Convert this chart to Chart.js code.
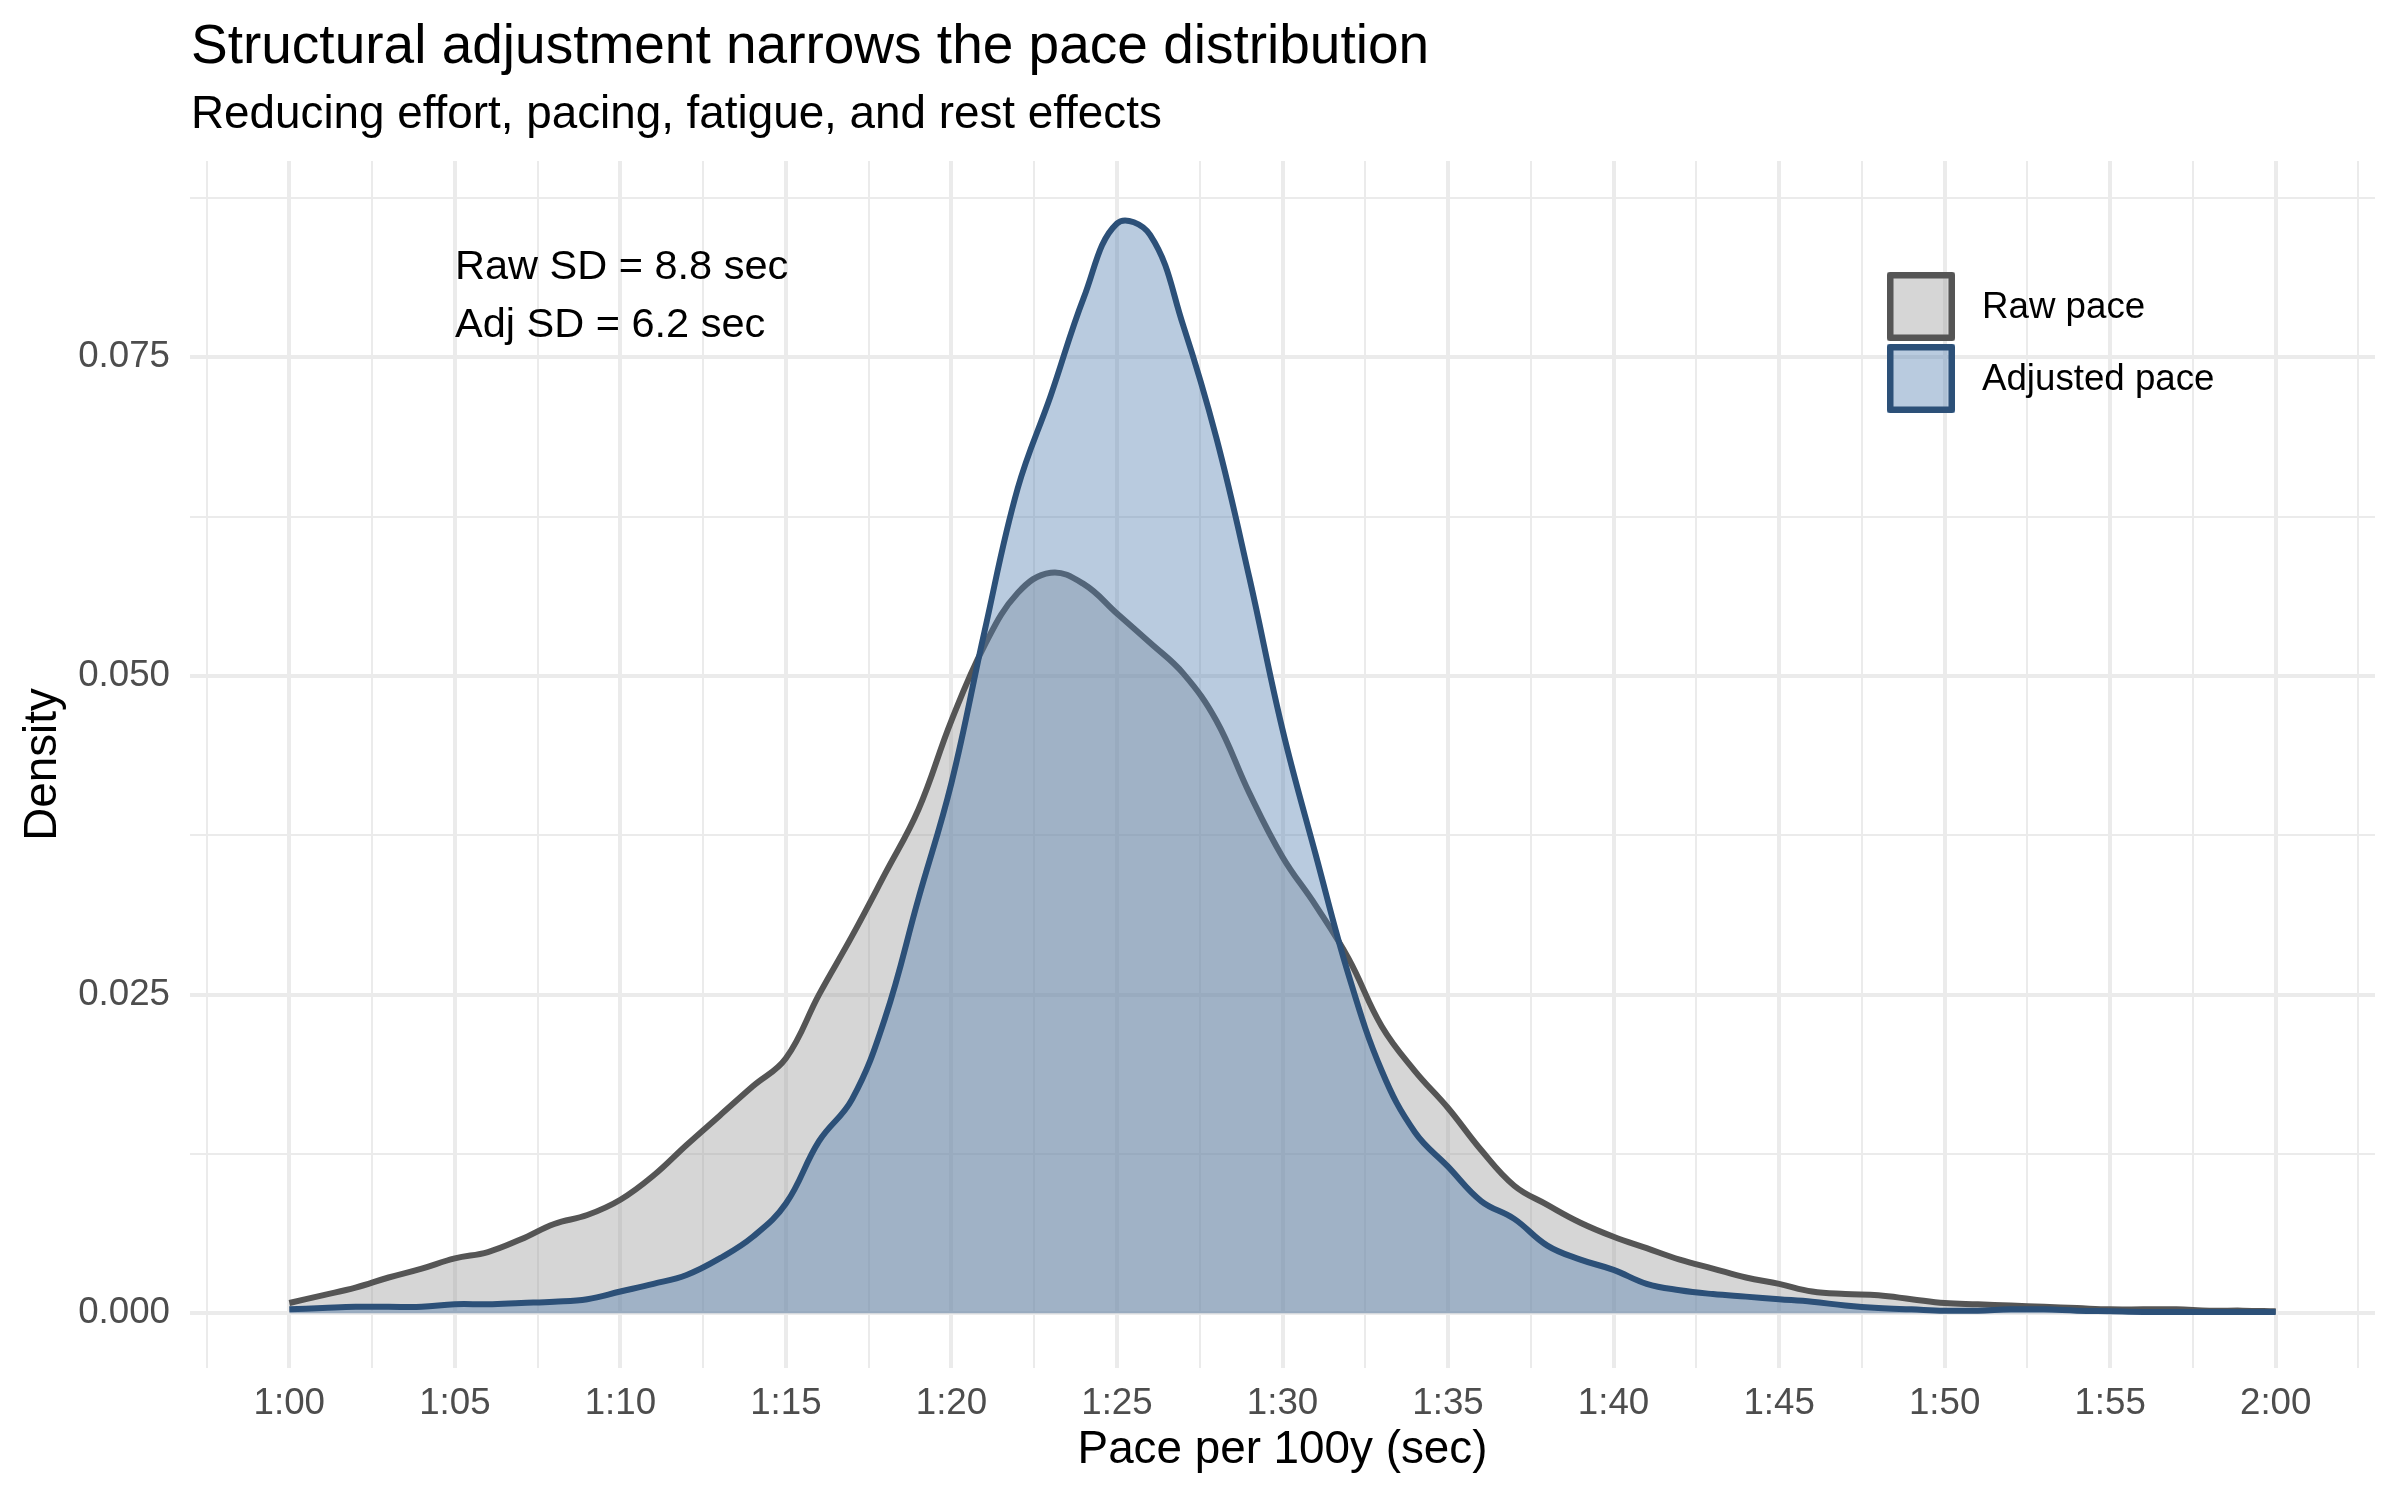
<!DOCTYPE html>
<html>
<head>
<meta charset="utf-8">
<script src="https://cdn.jsdelivr.net/npm/chart.js@4.4.0/dist/chart.umd.min.js"></script>
<style>
  html, body { margin: 0; padding: 0; background: #fff; }
</style>
</head>
<body>
<canvas id="paceChart" width="2400" height="1500"></canvas>
<script>
// pace grid, seconds per 100y
const paceSec = [60, 61, 62, 63, 64, 65, 66, 67, 68, 69, 70, 71, 72, 73, 74, 75, 76, 77, 78, 79,
  80, 81, 82, 83, 84, 85, 86, 87, 88, 89, 90, 91, 92, 93, 94, 95, 96, 97, 98, 99,
  100, 101, 102, 103, 104, 105, 106, 107, 108, 109, 110, 111, 112, 113, 114, 115, 116, 117, 118, 119, 120];

// density
const rawDensity = [0.0008, 0.0014, 0.0020, 0.0028, 0.0035, 0.0043, 0.0048, 0.0058, 0.0070, 0.0077,
  0.0089, 0.0108, 0.0132, 0.0155, 0.0178, 0.0200, 0.0250, 0.0296, 0.0345, 0.0395,
  0.0465, 0.0524, 0.0565, 0.0581, 0.0572, 0.0549, 0.0526, 0.0502, 0.0465, 0.0408,
  0.0358, 0.0320, 0.0278, 0.0225, 0.0190, 0.0161, 0.0128, 0.0100, 0.0085, 0.0071,
  0.0060, 0.0051, 0.0042, 0.0035, 0.0028, 0.0023, 0.0017, 0.0015, 0.0014, 0.0011,
  0.0008, 0.0007, 0.0006, 0.0005, 0.0004, 0.0003, 0.0003, 0.0003, 0.0002, 0.0002, 0.00015];

const adjDensity = [0.0003, 0.0004, 0.0005, 0.0005, 0.0005, 0.0007, 0.0007, 0.0008, 0.0009, 0.0011,
  0.0017, 0.0023, 0.0030, 0.0043, 0.0060, 0.0086, 0.0135, 0.0168, 0.0232, 0.0325,
  0.0416, 0.0535, 0.0647, 0.0720, 0.0797, 0.0855, 0.0846, 0.0775, 0.0687, 0.0577,
  0.0458, 0.0360, 0.0265, 0.0190, 0.0142, 0.0115, 0.0088, 0.0074, 0.0053, 0.0042,
  0.0034, 0.0023, 0.0018, 0.0015, 0.0013, 0.0011, 0.0009, 0.0006, 0.0004, 0.0003,
  0.0002, 0.0002, 0.0003, 0.0003, 0.0002, 0.00015, 0.0001, 0.0001, 0.0001, 0.0001, 0.0001];

const seriesNames = ["Raw pace", "Adjusted pace"];
const yTicks = [0, 0.0125, 0.025, 0.0375, 0.05, 0.0625, 0.075, 0.0875];
const annotationLines = ["Raw SD = 8.8 sec", "Adj SD = 6.2 sec"];

const FONT = "'Liberation Sans', Arial, Helvetica, sans-serif";
const rawLine = "#555555", rawFill = "rgba(153,153,153,0.4)";
const adjLine = "#2C5078", adjFill = "rgba(80,124,176,0.4)";

function fmtPace(v) {
  const m = Math.floor(v / 60);
  const s = Math.round(v - m * 60);
  return m + ":" + (s < 10 ? "0" + s : s);
}

// titles, SD note and legend
const overlay = {
  id: "overlay",
  afterDraw(chart) {
    const ctx = chart.ctx;
    ctx.save();
    ctx.fillStyle = "#000";
    ctx.textAlign = "left";
    ctx.textBaseline = "alphabetic";
    ctx.font = "55px " + FONT;
    ctx.fillText("Structural adjustment narrows the pace distribution", 191, 63);
    ctx.font = "45.8px " + FONT;
    ctx.fillText("Reducing effort, pacing, fatigue, and rest effects", 191, 128);

    ctx.textBaseline = "middle";
    ctx.font = "41.5px " + FONT;
    ctx.fillText(annotationLines[0], 455, 268);
    ctx.fillText(annotationLines[1], 455, 326);

    // legend
    const keys = [[rawFill, rawLine], [adjFill, adjLine]];
    ctx.font = "36.7px " + FONT;
    keys.forEach((k, i) => {
      const x = 1887, y = 272 + i * 72, w = 68, h = 69;
      ctx.fillStyle = k[0];
      ctx.fillRect(x, y, w, h);
      ctx.strokeStyle = k[1];
      ctx.lineWidth = 6.5;
      ctx.lineJoin = "round";
      ctx.strokeRect(x + 3.25, y + 3.25, w - 6.5, h - 6.5);
      ctx.fillStyle = "#000";
      ctx.fillText(seriesNames[i], 1982, y + 36);
    });
    ctx.restore();
  }
};

const ctx = document.getElementById("paceChart").getContext("2d");
new Chart(ctx, {
  type: "line",
  data: {
    datasets: [
      {
        label: seriesNames[0],
        data: paceSec.map((x, i) => ({ x: x, y: rawDensity[i] })),
        borderColor: rawLine,
        backgroundColor: rawFill,
        borderWidth: 6,
        fill: "origin",
        pointRadius: 0,
        tension: 0.4,
        order: 2
      },
      {
        label: seriesNames[1],
        data: paceSec.map((x, i) => ({ x: x, y: adjDensity[i] })),
        borderColor: adjLine,
        backgroundColor: adjFill,
        borderWidth: 6,
        fill: "origin",
        pointRadius: 0,
        tension: 0.4,
        order: 1
      }
    ]
  },
  options: {
    responsive: false,
    animation: false,
    devicePixelRatio: 1,
    layout: { padding: { top: 161, right: 25, bottom: 0, left: 0 } },
    plugins: {
      legend: { display: false },
      tooltip: { enabled: false },
      title: { display: false }
    },
    scales: {
      x: {
        type: "linear",
        min: 57,
        max: 123,
        afterBuildTicks: s => {
          const t = [];
          for (let v = 57.5; v <= 122.5; v += 2.5) t.push({ value: v });
          s.ticks = t;
        },
        afterFit: s => { s.height = 132; },
        border: { display: false },
        grid: {
          drawTicks: false,
          color: "#EBEBEB",
          lineWidth: c => (c.tick && c.tick.value % 5 === 0 ? 4 : 2)
        },
        ticks: {
          autoSkip: false,
          maxRotation: 0,
          padding: 14,
          color: "#4D4D4D",
          font: { family: FONT, size: 36.7 },
          callback: v => (v % 5 === 0 ? fmtPace(v) : "")
        },
        title: {
          display: true,
          text: "Pace per 100y (sec)",
          color: "#000",
          font: { family: FONT, size: 45.8 },
          padding: { top: 0, bottom: 22 }
        }
      },
      y: {
        type: "linear",
        min: -0.0043,
        max: 0.0904,
        afterBuildTicks: s => { s.ticks = yTicks.map(v => ({ value: v })); },
        afterFit: s => { s.width = 190; },
        border: { display: false },
        grid: {
          drawTicks: false,
          color: "#EBEBEB",
          lineWidth: c => {
            if (!c.tick) return 2;
            const r = c.tick.value / 0.025;
            return Math.abs(r - Math.round(r)) < 1e-6 ? 4 : 2;
          }
        },
        ticks: {
          padding: 20,
          color: "#4D4D4D",
          font: { family: FONT, size: 36.7 },
          callback: v => {
            const r = v / 0.025;
            return Math.abs(r - Math.round(r)) < 1e-6 ? v.toFixed(3) : "";
          }
        },
        title: {
          display: true,
          text: "Density",
          color: "#000",
          font: { family: FONT, size: 45.8 },
          padding: { top: 16, bottom: 0 }
        }
      }
    }
  },
  plugins: [overlay]
});
</script>
</body>
</html>
